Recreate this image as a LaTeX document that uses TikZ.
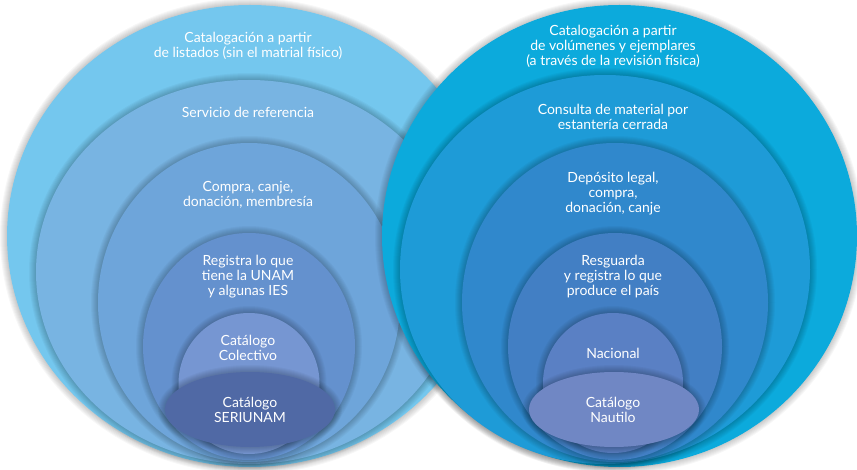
\documentclass[tikz,border=0pt]{standalone}
\usepackage{fontspec}
\setmainfont{Lato}
\usetikzlibrary{shapes.geometric}

\definecolor{lzero}{HTML}{74C7EE}
\definecolor{lone}{HTML}{78B4E2}
\definecolor{ltwo}{HTML}{6EA5DA}
\definecolor{lthree}{HTML}{6491CE}
\definecolor{lfour}{HTML}{7696D2}
\definecolor{lfive}{HTML}{5069A5}
\definecolor{rzero}{HTML}{0CAADC}
\definecolor{rone}{HTML}{1E9BD7}
\definecolor{rtwo}{HTML}{3088CC}
\definecolor{rthree}{HTML}{427FC4}
\definecolor{rfour}{HTML}{5A80C4}
\definecolor{rfive}{HTML}{7087C4}

\begin{document}
\begin{tikzpicture}[x=1pt,y=-1pt,
    ring/.style={ellipse,inner sep=0pt},
    lbl/.style={text=white,align=center,inner sep=0pt,
      font=\fontsize{14}{15}\selectfont}]
  \useasboundingbox (0,0) rectangle (857,470);

  \pgfmathsetmacro{\lcx}{249}
  \pgfmathsetmacro{\rcx}{614}

  \def\ring(#1,#2,#3,#4,#5,#6){
    % Draw soft shadow
    \foreach \k in {1,...,7}
      \fill[black,opacity=0.03] (#2,#3) ellipse [x radius=#4+\k, y radius=#5+\k];
    % Draw ring
    \node[ring,fill=#6,minimum width=2*#4pt,minimum height=2*#5pt] (#1) at (#2,#3) {};
  }

  % Draw left rings
  \ring(lzero,250,236,243,231,lzero)
  \ring(lone,\lcx,272,213,192,lone)
  \ring(ltwo,\lcx,302.5,151,159.5,ltwo)
  \ring(lthree,\lcx,346.5,106,113.5,lthree)
  \ring(lfour,\lcx,383.5,70.5,70.5,lfour)
  \ring(lfive,250,409.5,85,37.5,lfive)

  % Draw right rings
  \ring(rzero,619.5,236,237.5,231,rzero)
  \ring(rone,605,269.5,205,194.5,rone)
  \ring(rtwo,615,302.5,153,159.5,rtwo)
  \ring(rthree,615,346.5,107,113.5,rthree)
  \ring(rfour,613,383,70,70,rfour)
  \ring(rfive,\rcx,409.5,85,37.5,rfive)

  % Draw left labels
  \node[lbl] (lzerotxt) at (248,46) {Catalogación a partir\\de listados (sin el matrial físico)};
  \node[lbl] (lonetxt) at (248,112) {Servicio de referencia};
  \node[lbl] (ltwotxt) at (248,194.5) {Compra, canje,\\donación, membresía};
  \node[lbl] (lthreetxt) at (248,277) {Registra lo que\\tiene la UNAM\\y algunas IES};
  \node[lbl] (lfourtxt) at (248,347.5) {Catálogo\\Colectivo};
  \node[lbl] (lfivetxt) at (250,410) {Catálogo\\SERIUNAM};

  % Draw right labels
  \node[lbl] (rzerotxt) at (613,46) {Catalogación a partir\\de volúmenes y ejemplares\\(a través de la revisión física)};
  \node[lbl] (ronetxt) at (613,116.5) {Consulta de material por\\estantería cerrada};
  \node[lbl] (rtwotxt) at (613,194) {Depósito legal,\\compra,\\donación, canje};
  \node[lbl] (rthreetxt) at (613,277) {Resguarda\\y registra lo que\\produce el país};
  \node[lbl] (rfourtxt) at (613,353) {Nacional};
  \node[lbl] (rfivetxt) at (613,410) {Catálogo\\Nautilo};
\end{tikzpicture}
\end{document}
